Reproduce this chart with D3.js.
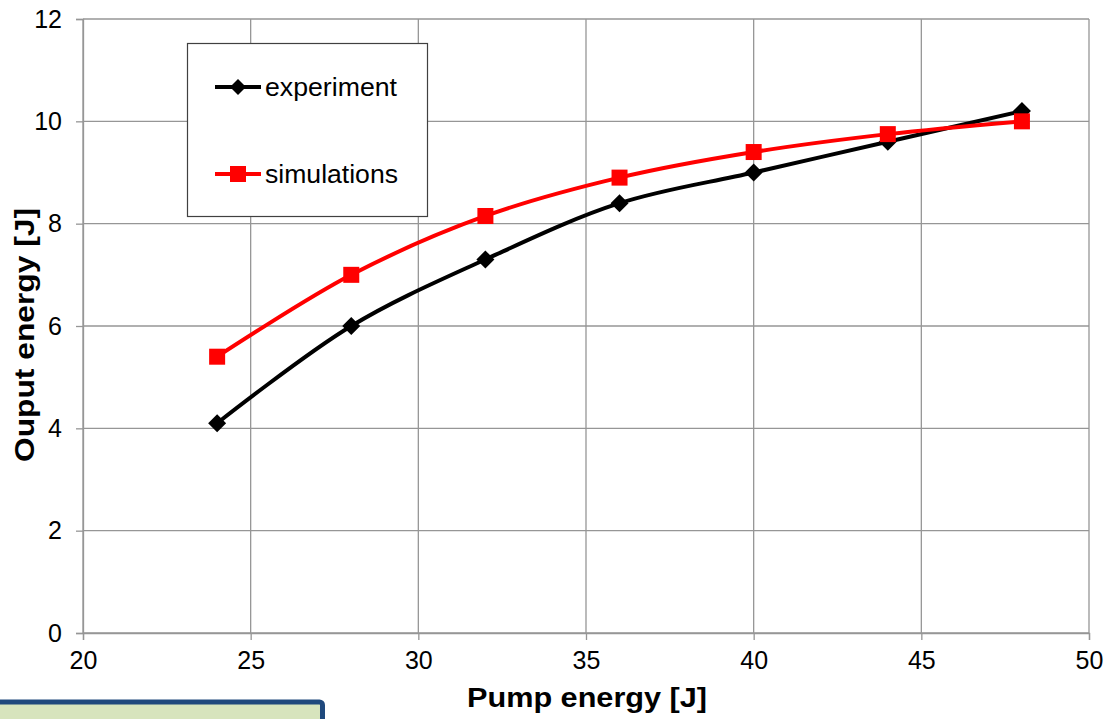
<!DOCTYPE html>
<html>
<head>
<meta charset="utf-8">
<script src="https://cdn.jsdelivr.net/npm/d3@7"></script>
<style>
  html, body { margin: 0; padding: 0; background: #fff; }
  svg { display: block; font-family: "Liberation Sans", Arial, sans-serif; }
</style>
</head>
<body>
<svg id="chart" width="1105" height="719"></svg>
<script>
// Pump energy (J) at which both series were sampled
const pumpEnergy = [24, 28, 32, 36, 40, 44, 48];
// Measured output energy (J)
const experiment = [4.1, 6.0, 7.3, 8.4, 9.0, 9.6, 10.2];
// Modelled output energy (J)
const simulations = [5.4, 7.0, 8.15, 8.9, 9.4, 9.75, 10.0];
// Axis ticks
const xTicks = [20, 25, 30, 35, 40, 45, 50];
const yTicks = [0, 2, 4, 6, 8, 10, 12];
const seriesNames = ["experiment", "simulations"];

const svg = d3.select("#chart");
const plot = { left: 83, right: 1089, top: 19, bottom: 633 };

const x = d3.scaleLinear().domain([20, 50]).range([plot.left, plot.right]);
const y = d3.scaleLinear().domain([0, 12]).range([plot.bottom, plot.top]);

const gridColor = "#969696";

// gridlines
svg.append("g").selectAll("line").data(yTicks).join("line")
  .attr("x1", plot.left).attr("x2", plot.right)
  .attr("y1", d => y(d)).attr("y2", d => y(d))
  .attr("stroke", gridColor).attr("stroke-width", 1.3);
svg.append("g").selectAll("line").data(xTicks).join("line")
  .attr("x1", d => x(d)).attr("x2", d => x(d))
  .attr("y1", plot.top).attr("y2", plot.bottom)
  .attr("stroke", gridColor).attr("stroke-width", 1.3);

// axes
const yAxis = d3.axisLeft(y).tickValues(yTicks).tickSize(7).tickPadding(14);
const xAxis = d3.axisBottom(x).tickValues(xTicks).tickSize(7).tickPadding(11);

const gy = svg.append("g").attr("transform", `translate(${plot.left},0)`).call(yAxis);
const gx = svg.append("g").attr("transform", `translate(0,${plot.bottom})`).call(xAxis);
[gx, gy].forEach(g => {
  g.attr("font-size", null).attr("font-family", null);
  g.select(".domain").attr("stroke", gridColor).attr("stroke-width", 1.3);
  g.selectAll(".tick line").attr("stroke", gridColor).attr("stroke-width", 1.3);
  g.selectAll(".tick text").attr("fill", "#000").style("font-size", "25px");
});

// axis titles
svg.append("text")
  .attr("x", 587).attr("y", 707)
  .attr("text-anchor", "middle")
  .attr("textLength", 240).attr("lengthAdjust", "spacingAndGlyphs")
  .style("font-size", "27px").style("font-weight", "bold")
  .text("Pump energy [J]");
svg.append("text")
  .attr("transform", "translate(34,335) rotate(-90)")
  .attr("text-anchor", "middle")
  .attr("textLength", 254).attr("lengthAdjust", "spacingAndGlyphs")
  .style("font-size", "27px").style("font-weight", "bold")
  .text("Ouput energy [J]");

// series
const line = d3.line()
  .x(d => x(d[0])).y(d => y(d[1]))
  .curve(d3.curveCatmullRom.alpha(0.5));

const expData = pumpEnergy.map((p, i) => [p, experiment[i]]);
const simData = pumpEnergy.map((p, i) => [p, simulations[i]]);

svg.append("path").datum(expData)
  .attr("d", line).attr("fill", "none")
  .attr("stroke", "#000").attr("stroke-width", 4);
svg.append("path").datum(simData)
  .attr("d", line).attr("fill", "none")
  .attr("stroke", "#ff0000").attr("stroke-width", 4);

svg.append("g").selectAll("path").data(expData).join("path")
  .attr("transform", d => `translate(${x(d[0])},${y(d[1])})`)
  .attr("d", "M0,-9L9,0L0,9L-9,0Z")
  .attr("fill", "#000");

svg.append("g").selectAll("rect").data(simData).join("rect")
  .attr("x", d => x(d[0]) - 8).attr("y", d => y(d[1]) - 8)
  .attr("width", 16).attr("height", 16)
  .attr("fill", "#ff0000");

// legend
const legend = svg.append("g");
legend.append("rect")
  .attr("x", 187.5).attr("y", 43.5).attr("width", 240).attr("height", 173)
  .attr("fill", "#fff").attr("stroke", "#404040").attr("stroke-width", 1.2);
const legendRows = [
  { name: seriesNames[0], color: "#000", y: 87, marker: "diamond", len: 132 },
  { name: seriesNames[1], color: "#ff0000", y: 174, marker: "square", len: 133 }
];
legendRows.forEach(r => {
  legend.append("line")
    .attr("x1", 215).attr("x2", 261).attr("y1", r.y).attr("y2", r.y)
    .attr("stroke", r.color).attr("stroke-width", 4);
  if (r.marker === "diamond") {
    legend.append("path")
      .attr("transform", `translate(238,${r.y})`)
      .attr("d", "M0,-8L8,0L0,8L-8,0Z").attr("fill", r.color);
  } else {
    legend.append("rect")
      .attr("x", 230).attr("y", r.y - 8).attr("width", 16).attr("height", 16)
      .attr("fill", r.color);
  }
  legend.append("text")
    .attr("x", 265).attr("y", r.y + 8.5)
    .attr("textLength", r.len).attr("lengthAdjust", "spacingAndGlyphs")
    .style("font-size", "25px")
    .text(r.name);
});

// green panel peeking in at the bottom-left corner
svg.append("rect")
  .attr("x", -10).attr("y", 702).attr("width", 332.5).attr("height", 40)
  .attr("rx", 3)
  .attr("fill", "#d7e4bd").attr("stroke", "#1f497d").attr("stroke-width", 5);
</script>
</body>
</html>
